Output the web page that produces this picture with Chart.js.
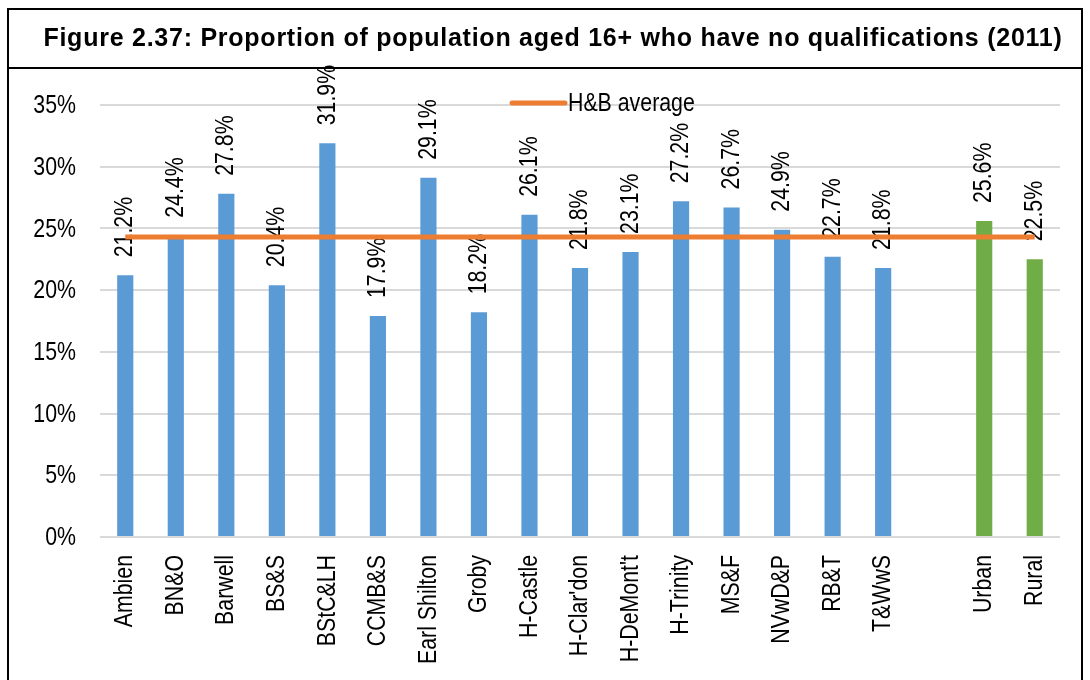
<!DOCTYPE html>
<html lang="en">
<head>
<meta charset="UTF-8">
<title>Figure 2.37 - No qualifications</title>
<script src="https://cdn.jsdelivr.net/npm/chart.js"></script>
<style>
    body { margin: 0; background: #fff; font-family: "Liberation Sans", Arial, sans-serif; }
    .frame {
        position: absolute; left: 7px; top: 8px; width: 1076px; height: 700px;
        border: 2px solid #000; box-sizing: border-box; pointer-events: none;
    }
    .title {
        height: 59px; border-bottom: 2px solid #000; padding-left: 16px; padding-bottom: 3px;
        box-sizing: border-box;
        display: flex; align-items: center; justify-content: center;
        font-weight: bold; font-size: 25px; letter-spacing: 0.75px; color: #000;
    }
    #chartBox { position: absolute; left: 0; top: 0; width: 1090px; height: 680px; }
</style>
</head>
<body>
<div id="chartBox"><canvas id="qualChart"></canvas></div>
<div class="frame">
    <div class="title">Figure 2.37: Proportion of population aged 16+ who have no qualifications (2011)</div>
</div>

<script>
// datos
const areas = ['Ambien', 'BN&O', 'Barwell', 'BS&S', 'BStC&LH', 'CCMB&S', 'Earl Shilton', 'Groby',
    'H-Castle', "H-Clar'don", "H-DeMont't", 'H-Trinity', 'MS&F', 'NVwD&P', 'RB&T', 'T&WwS', '', 'Urban', 'Rural'];
const noQualPct = [21.2, 24.4, 27.8, 20.4, 31.9, 17.9, 29.1, 18.2,
    26.1, 21.8, 23.1, 27.2, 26.7, 24.9, 22.7, 21.8, null, 25.6, 22.5];
const hbAverage = 24.3;
const yTicks = [0, 5, 10, 15, 20, 25, 30, 35];

const blue = '#5B9BD5', green = '#70AD47', orange = '#ED7D31';
const barColors = areas.map(a => (a === 'Urban' || a === 'Rural') ? green : blue);
const avgLine = areas.map(() => hbAverage);
const FONT = '26px "Liberation Sans", Arial, sans-serif';
const NARROW = 0.82; // imita Arial Narrow, no hay fuente estrecha instalada

// texto estrecho: x,y punto de anclaje, rot en radianes
function narrowText(ctx, text, x, y, rot, align) {
    ctx.save();
    ctx.translate(x, y);
    if (rot) ctx.rotate(rot);
    ctx.scale(NARROW, 1);
    ctx.textAlign = align;
    ctx.fillText(text, 0, 0);
    ctx.restore();
}

const narrowLabels = {
    id: 'narrowLabels',
    // etiquetas de valor giradas encima de cada barra (antes de la linea naranja)
    afterDatasetDraw(chart, args) {
        if (args.index !== 0) return;
        const ctx = chart.ctx;
        ctx.save();
        ctx.font = FONT;
        ctx.fillStyle = '#000';
        ctx.textBaseline = 'middle';
        args.meta.data.forEach((bar, i) => {
            const v = noQualPct[i];
            if (v === null) return;
            narrowText(ctx, v.toFixed(1) + '%', bar.x, bar.y - 18, -Math.PI / 2, 'left');
        });
        ctx.restore();
    },
    afterDraw(chart) {
        const ctx = chart.ctx, area = chart.chartArea;
        const xs = chart.scales.x, ys = chart.scales.y;
        ctx.save();
        ctx.font = FONT;
        ctx.fillStyle = '#000';
        ctx.textBaseline = 'middle';
        // eje y
        yTicks.forEach(v => narrowText(ctx, v + '%', area.left - 24, ys.getPixelForValue(v) + 1, 0, 'right'));
        // eje x
        areas.forEach((a, i) => {
            if (!a) return;
            narrowText(ctx, a, xs.getPixelForTick(i), area.bottom + 18, -Math.PI / 2, 'right');
        });
        // leyenda de la media
        const x0 = area.left + 410, y0 = area.top - 2;
        ctx.strokeStyle = orange;
        ctx.lineWidth = 5;
        ctx.lineCap = 'round';
        ctx.beginPath();
        ctx.moveTo(x0 + 2, y0);
        ctx.lineTo(x0 + 55, y0);
        ctx.stroke();
        narrowText(ctx, chart.data.datasets[1].label, x0 + 58, y0 + 1, 0, 'left');
        ctx.restore();
    }
};

const qualChart = new Chart(document.getElementById('qualChart'), {
    type: 'bar',
    data: {
        labels: areas,
        datasets: [{
            label: 'No qualifications',
            data: noQualPct,
            backgroundColor: barColors,
            barPercentage: 0.32,
            categoryPercentage: 1,
            order: 1
        }, {
            type: 'line',
            label: 'H&B average',
            data: avgLine,
            borderColor: orange,
            borderWidth: 5,
            pointRadius: 0,
            order: 0
        }]
    },
    options: {
        responsive: true,
        maintainAspectRatio: false,
        animation: false,
        layout: { padding: { left: 0, right: 30, top: 105, bottom: 0 } },
        plugins: { legend: { display: false }, tooltip: { enabled: false } },
        scales: {
            x: {
                grid: { display: false },
                border: { display: false },
                ticks: { display: false, autoSkip: false },
                afterFit(scale) { scale.height = 143; }
            },
            y: {
                min: 0, max: 35,
                grid: { color: '#D9D9D9', lineWidth: 2, drawTicks: false },
                border: { display: false },
                afterBuildTicks(scale) { scale.ticks = yTicks.map(v => ({ value: v })); },
                ticks: { display: false },
                afterFit(scale) { scale.width = 100; }
            }
        }
    },
    plugins: [narrowLabels]
});
</script>
</body>
</html>
